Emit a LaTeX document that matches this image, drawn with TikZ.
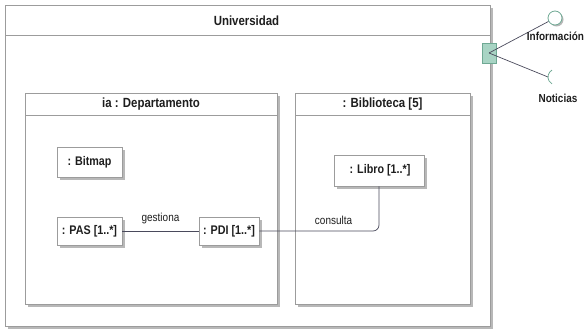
\documentclass[tikz,border=0pt]{standalone}
\usepackage{fontspec}
\setmainfont[FakeStretch=0.86]{Liberation Sans}
\usepackage{tikz}
\usetikzlibrary{positioning, calc, shadows}
\usepackage{xcolor}
\definecolor{borde}{HTML}{9C9C9C}
\definecolor{sombra}{HTML}{B8B8B8}
\definecolor{linea}{HTML}{4A4A5C}
\definecolor{puerto}{HTML}{A8D4C4}
\definecolor{puertoborde}{HTML}{6FA994}
\definecolor{texto}{HTML}{1E1E1E}

\tikzset{
  caja/.style={draw=borde, fill=white, line width=0.8pt, inner sep=0pt,
    drop shadow={shadow xshift=2.5pt, shadow yshift=-2.5pt, fill=sombra, opacity=1}},
  parte/.style={caja, font=\fontsize{12.5}{14}\selectfont\bfseries, text=texto},
  titulo/.style={font=\fontsize{13.3}{15}\selectfont\bfseries, text=texto},
  conector/.style={draw=linea, line width=0.7pt},
  etiqueta/.style={font=\fontsize{11.6}{13}\selectfont, text=texto},
  interfaz/.style={font=\fontsize{11.6}{13}\selectfont\bfseries, text=texto},
}

\begin{document}
\begin{tikzpicture}[x=1pt, y=-1pt]
                \useasboundingbox (0,0) rectangle (584,332);

                % --- Universidad (componente exterior) ---
                \node[caja, minimum width=485pt, minimum height=321pt] (univ) at (247.5,165.5) {};
                \draw[borde, line width=0.8pt] ($(univ.north west)+(0.4,31)$) -- ($(univ.north east)+(-0.4,31)$);
                \node[titulo] (tituniv) at (246.5,21) {Universidad};

                % --- ia : Departamento ---
                \node[caja, minimum width=252pt, minimum height=211pt] (dept) at (151,198.5) {};
                \draw[borde, line width=0.8pt] ($(dept.north west)+(0.4,23)$) -- ($(dept.north east)+(-0.4,23)$);
                \node[titulo] (titdept) at (151,104.5) {ia : Departamento};

                % --- : Biblioteca [5] ---
                \node[caja, minimum width=175pt, minimum height=211pt] (bibl) at (382.5,198.5) {};
                \draw[borde, line width=0.8pt] ($(bibl.north west)+(0.4,23)$) -- ($(bibl.north east)+(-0.4,23)$);
                \node[titulo] (titbibl) at (382.5,104.5) {: Biblioteca [5]};

                % --- Partes internas ---
                \node[parte, minimum width=65pt, minimum height=30pt] (bitmap) at (89.5,162) {: Bitmap};
                \node[parte, minimum width=65pt, minimum height=28pt] (pas) at (89.5,231) {: PAS [1..*]};
                \node[parte, minimum width=60pt, minimum height=28pt] (pdi) at (229,231) {: PDI [1..*]};
                \node[parte, minimum width=90pt, minimum height=31pt] (libro) at (379,170.5) {\,: Libro [1..*]};

                % --- Conectores ---
                \draw[conector] (pas.east) -- node[etiqueta, above=3pt] {gestiona} (pdi.west);
                \draw[conector, rounded corners=6pt] (pdi.east) -| node[etiqueta, pos=0.31, above=3pt] {consulta} (libro.south);

                % --- Puerto e interfaces ---
                \node[draw=puertoborde, fill=puerto, line width=0.7pt, minimum width=14pt, minimum height=20pt, inner sep=0pt] (puerto) at (489,53) {};
                \node[circle, draw=puertoborde, fill=white, line width=0.8pt, minimum size=14pt, inner sep=0pt,
                      drop shadow={shadow xshift=1.5pt, shadow yshift=-1.5pt, fill=sombra, opacity=1}] (info) at (555,18) {};
                \coordinate (notic) at (548,77);
                \draw[conector] (puerto.center) -- (info);
                \draw[conector] (puerto.center) -- (notic);
                \draw[puertoborde, line width=0.8pt] (552,70.07) arc[start angle=240, end angle=120, radius=8];
                \node[interfaz] (txtinfo) at (555.5,36) {Información};
                \node[interfaz] (txtnotic) at (558,98) {Noticias};
            \end{tikzpicture}
\end{document}
